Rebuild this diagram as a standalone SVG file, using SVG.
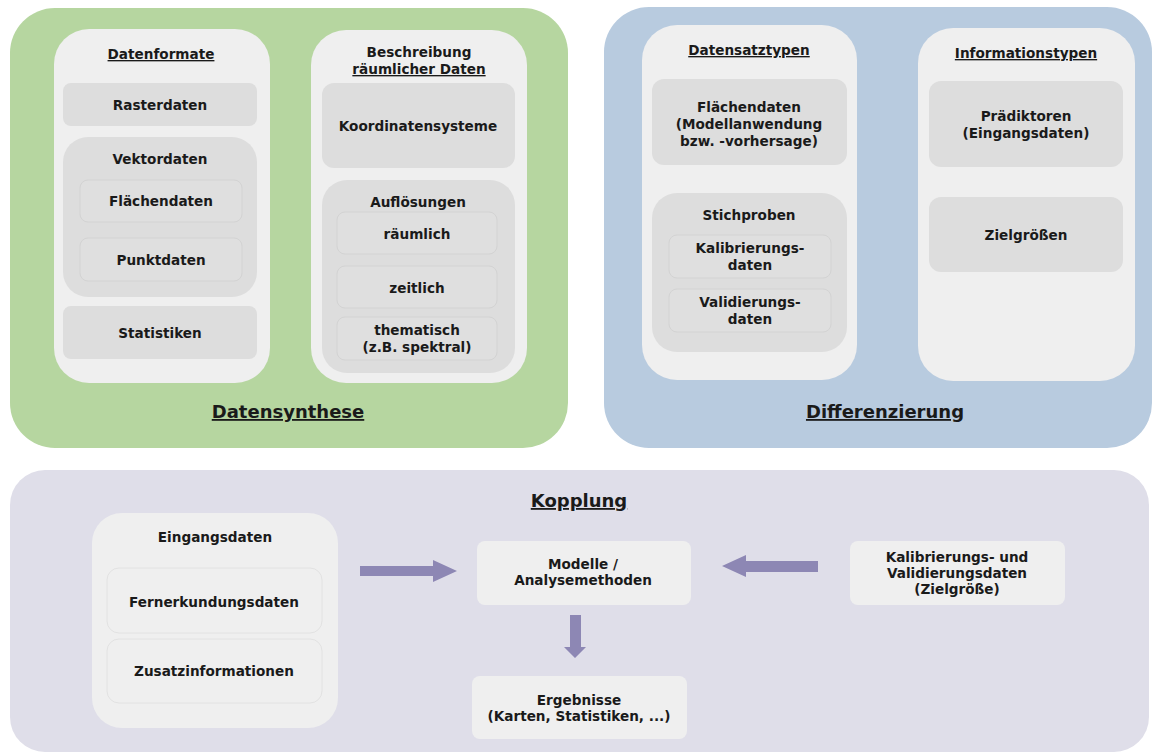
<svg xmlns="http://www.w3.org/2000/svg" width="1154" height="755" viewBox="0 0 1154 755">
<style>
text{font-family:"DejaVu Sans",sans-serif;font-weight:bold;font-size:13.6px;fill:#1a1a1a;text-anchor:middle}
.big{font-size:18px;text-decoration:underline}
.u{text-decoration:underline}
.col{fill:#efefef}
.box{fill:#dddddd}
.sub{fill:#dfdfdf;stroke:#d3d3d3;stroke-width:1}
.kbox{fill:#efefef}
.arr{fill:#8d87b4}
</style>
<rect width="1154" height="755" fill="#ffffff"/>
<g id="datensynthese">
<rect x="10" y="8" width="558" height="440" rx="45" fill="#b6d6a0"/>
<text class="big" x="288" y="418">Datensynthese</text>
</g>
<g id="datenformate">
<rect class="col" x="54" y="29" width="216" height="354" rx="35"/>
<text class="u" x="161" y="59">Datenformate</text>
<rect class="box" x="63" y="83" width="194" height="43" rx="8"/>
<text x="160" y="110">Rasterdaten</text>
<rect class="box" x="63" y="137" width="194" height="160" rx="25"/>
<text x="160" y="164">Vektordaten</text>
<rect class="sub" x="80" y="180" width="162" height="42" rx="8"/>
<text x="161" y="206">Flächendaten</text>
<rect class="sub" x="80" y="238" width="162" height="43" rx="8"/>
<text x="161" y="265">Punktdaten</text>
<rect class="box" x="63" y="306" width="194" height="53" rx="8"/>
<text x="160" y="338">Statistiken</text>
</g>
<g id="beschreibung">
<rect class="col" x="311" y="30" width="216" height="353" rx="35"/>
<text x="419" y="57">Beschreibung</text>
<text class="u" x="419" y="74">räumlicher Daten</text>
<rect class="box" x="322" y="83" width="193" height="85" rx="12"/>
<text x="418" y="131">Koordinatensysteme</text>
<rect class="box" x="322" y="180" width="193" height="193" rx="25"/>
<text x="418" y="207">Auflösungen</text>
<rect class="sub" x="337" y="212" width="160" height="42" rx="8"/>
<text x="417" y="239">räumlich</text>
<rect class="sub" x="337" y="266" width="160" height="42" rx="8"/>
<text x="417" y="293">zeitlich</text>
<rect class="sub" x="337" y="317" width="160" height="43" rx="8"/>
<text x="417" y="335">thematisch</text>
<text x="417" y="352">(z.B. spektral)</text>
</g>
<g id="differenzierung">
<rect x="604" y="7" width="548" height="441" rx="45" fill="#b8cbdf"/>
<text class="big" x="885" y="418">Differenzierung</text>
</g>
<g id="datensatztypen">
<rect class="col" x="642" y="25" width="215" height="355" rx="35"/>
<text class="u" x="749" y="55">Datensatztypen</text>
<rect class="box" x="652" y="79" width="195" height="86" rx="12"/>
<text x="749" y="112">Flächendaten</text>
<text x="749" y="129">(Modellanwendung</text>
<text x="749" y="146">bzw. -vorhersage)</text>
<rect class="box" x="652" y="193" width="195" height="159" rx="25"/>
<text x="749" y="220">Stichproben</text>
<rect class="sub" x="669" y="235" width="162" height="43" rx="8"/>
<text x="750" y="253">Kalibrierungs-</text>
<text x="750" y="270">daten</text>
<rect class="sub" x="669" y="289" width="162" height="43" rx="8"/>
<text x="750" y="307">Validierungs-</text>
<text x="750" y="324">daten</text>
</g>
<g id="informationstypen">
<rect class="col" x="918" y="28" width="217" height="353" rx="35"/>
<text class="u" x="1026" y="58">Informationstypen</text>
<rect class="box" x="929" y="81" width="194" height="86" rx="12"/>
<text x="1026" y="121">Prädiktoren</text>
<text x="1026" y="138">(Eingangsdaten)</text>
<rect class="box" x="929" y="197" width="194" height="75" rx="12"/>
<text x="1026" y="240">Zielgrößen</text>
</g>
<g id="kopplung">
<rect x="10" y="470" width="1139" height="282" rx="35" fill="#dfdee9"/>
<text class="big" x="579" y="507">Kopplung</text>
</g>
<g id="eingangsdaten">
<rect class="kbox" x="92" y="513" width="246" height="215" rx="30"/>
<text x="215" y="542">Eingangsdaten</text>
<rect class="kbox" x="107" y="568" width="215" height="65" rx="12" stroke="#e2e2e2"/>
<text x="214" y="607">Fernerkundungsdaten</text>
<rect class="kbox" x="107" y="639" width="215" height="64" rx="12" stroke="#e2e2e2"/>
<text x="214" y="676">Zusatzinformationen</text>
</g>
<g id="modelle">
<rect class="kbox" x="477" y="541" width="214" height="64" rx="8"/>
<text x="583" y="569">Modelle /</text>
<text x="583" y="585">Analysemethoden</text>
</g>
<g id="ergebnisse">
<rect class="kbox" x="472" y="676" width="215" height="63" rx="8"/>
<text x="579" y="705">Ergebnisse</text>
<text x="579" y="721">(Karten, Statistiken, ...)</text>
</g>
<g id="kalibrierung">
<rect class="kbox" x="850" y="541" width="215" height="64" rx="8"/>
<text x="957" y="562">Kalibrierungs- und</text>
<text x="957" y="578">Validierungsdaten</text>
<text x="957" y="594">(Zielgröße)</text>
</g>
<g id="connectors">
<polygon class="arr" points="360,566 433,566 433,560 457,571 433,582 433,576 360,576"/>
<polygon class="arr" points="818,561 746,561 746,555 722,566 746,577 746,572 818,572"/>
<polygon class="arr" points="570,615 581,615 581,647 586,647 575,658 564,647 570,647"/>
</g>
</svg>
